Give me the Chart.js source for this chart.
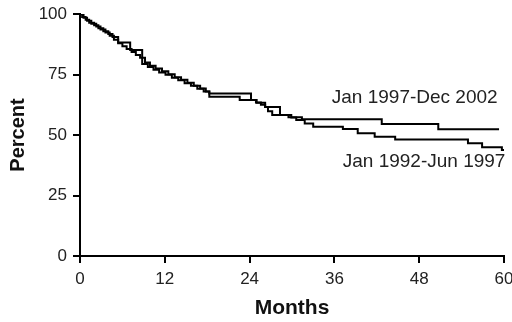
<!DOCTYPE html>
<html><head><meta charset="utf-8">
<script src="https://cdn.jsdelivr.net/npm/chart.js@4"></script>
<style>html,body{margin:0;padding:0;background:#fff;overflow:hidden}#wrap{width:512px;height:322px}</style>
</head><body><div id="wrap"><canvas id="c" width="512" height="322"></canvas></div>
<script>
// Jan 1997-Dec 2002 (Kaplan-Meier steps: month, percent)
const monthsA  = [0, 0.3, 0.8, 1.3, 2.0, 2.6, 3.3, 4.0, 4.6, 5.4, 7.1, 8.8, 9.6, 10.4, 11.2, 12.1, 13.0, 13.9, 14.8, 15.7, 16.6, 17.5, 18.3, 24.2, 25.0, 26.2, 28.3, 29.5, 31.4, 42.7, 50.7, 59.3];
const percentA = [100, 98.8, 97.6, 96.4, 95.3, 94.1, 92.9, 91.7, 90.5, 88.2, 85.1, 79.3, 78.1, 77.0, 75.8, 74.9, 73.7, 72.6, 71.4, 70.3, 69.1, 68.0, 67.2, 64.5, 63.3, 61.6, 58.3, 57.3, 56.5, 54.5, 52.4, 52.4];
// Jan 1992-Jun 1997
const monthsB  = [0, 0.5, 1.0, 1.6, 2.3, 2.9, 3.6, 4.2, 4.8, 5.4, 6.0, 6.6, 7.3, 7.9, 8.5, 9.2, 9.9, 10.7, 11.6, 12.5, 13.4, 14.3, 15.2, 16.1, 17.0, 17.8, 18.3, 22.6, 24.9, 25.6, 26.2, 26.6, 27.2, 29.9, 30.6, 31.8, 33.0, 37.2, 39.3, 41.7, 44.6, 54.9, 56.9, 59.7, 60];
const percentB = [100, 98.4, 97.2, 96.0, 94.8, 93.6, 92.4, 91.0, 89.4, 87.9, 86.7, 85.5, 84.3, 83.1, 81.9, 80.0, 78.6, 77.5, 76.3, 75.1, 73.9, 72.8, 71.6, 70.4, 69.2, 68.0, 65.8, 64.5, 63.4, 62.5, 61.6, 59.8, 58.3, 57.2, 56.2, 54.8, 53.4, 52.5, 50.7, 49.3, 48.1, 46.6, 44.9, 43.8, 43.8];
const seriesNames = ['Jan 1997-Dec 2002', 'Jan 1992-Jun 1997'];
const xTicks = [0, 12, 24, 36, 48, 60];
const yTicks = [0, 25, 50, 75, 100];

const toPts = (xs, ys) => xs.map((x, i) => ({x: x, y: ys[i]}));
const FONT = "'Liberation Sans', Arial, sans-serif";

const labelPlugin = {
  id: 'seriesLabels',
  afterDatasetsDraw(chart) {
    const {ctx, scales: {x, y}} = chart;
    ctx.save();
    ctx.font = '19px ' + FONT;
    ctx.fillStyle = '#222';
    ctx.textAlign = 'right';
    ctx.textBaseline = 'middle';
    ctx.fillText(seriesNames[0], x.getPixelForValue(59.1), y.getPixelForValue(65.3));
    ctx.fillText(seriesNames[1], x.getPixelForValue(60.2), y.getPixelForValue(38.8));
    ctx.restore();
  }
};

new Chart(document.getElementById('c'), {
  type: 'line',
  data: {
    datasets: [
      {label: seriesNames[0], data: toPts(monthsA, percentA), stepped: 'before', borderColor: '#000', borderWidth: 2, pointRadius: 0, fill: false},
      {label: seriesNames[1], data: toPts(monthsB, percentB), stepped: 'before', borderColor: '#000', borderWidth: 2, pointRadius: 0, fill: false}
    ]
  },
  options: {
    responsive: false,
    devicePixelRatio: 1,
    animation: false,
    layout: {padding: {top: 14, right: 8, left: 6, bottom: 0}},
    plugins: {legend: {display: false}, tooltip: {enabled: false}},
    scales: {
      x: {
        type: 'linear', min: 0, max: 60,
        afterBuildTicks: s => { s.ticks = xTicks.map(v => ({value: v})); },
        afterFit: s => { s.height = 66; s.paddingRight = 0; s.paddingLeft = 0; },
        grid: {drawOnChartArea: false, drawTicks: true, tickLength: 7, color: '#000', lineWidth: 2},
        border: {color: '#000', width: 2},
        ticks: {font: {family: FONT, size: 17}, color: '#222', padding: 6, maxRotation: 0},
        title: {display: true, text: 'Months', font: {family: FONT, size: 21, weight: 'bold'}, color: '#111', padding: {top: 2, bottom: 1}}
      },
      y: {
        type: 'linear', min: 0, max: 100,
        afterBuildTicks: s => { s.ticks = yTicks.map(v => ({value: v})); },
        afterFit: s => { s.width = 74; s.paddingTop = 0; s.paddingBottom = 0; },
        grid: {drawOnChartArea: false, drawTicks: true, tickLength: 7, color: '#000', lineWidth: 2},
        border: {color: '#000', width: 2},
        ticks: {font: {family: FONT, size: 17}, color: '#222', padding: 6},
        title: {display: true, text: 'Percent', font: {family: FONT, size: 20, weight: 'bold'}, color: '#111', padding: {top: 0, bottom: 4}}
      }
    }
  },
  plugins: [labelPlugin]
});
</script></body></html>
